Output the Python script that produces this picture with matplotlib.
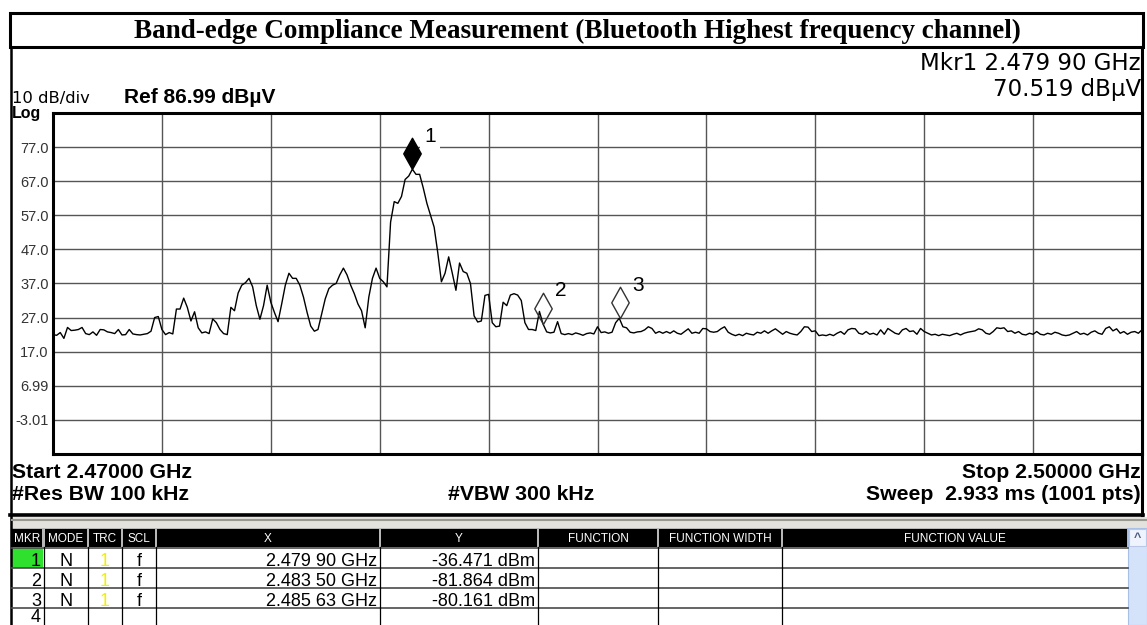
import matplotlib.pyplot as plt
import numpy as np
from matplotlib.patches import Rectangle

plt.rcParams['font.family'] = ['Liberation Sans', 'DejaVu Sans']

# sweep settings
f_start = 2.470   # GHz
f_stop = 2.500
ref_level = 86.99  # dBuV
db_div = 10

# trace, one value every 0.1 MHz (dBuV)
trace = [
    22.0, 21.8, 22.6, 20.9, 24.1, 23.2, 23.3, 23.5, 24.1, 22.3,
    22.0, 22.8, 21.8, 23.5, 23.4, 22.8, 22.6, 22.3, 23.5, 21.9,
    22.0, 23.5, 22.2, 22.0, 21.9, 22.1, 22.3, 23.0, 27.0, 27.3,
    23.5, 22.0, 22.6, 22.2, 29.5, 29.5, 32.7, 30.0, 26.0, 28.7,
    24.0, 22.5, 22.8, 22.3, 26.6, 25.5, 23.5, 22.3, 22.0, 30.0,
    29.0, 34.2, 36.5, 37.2, 38.5, 36.0, 30.5, 26.5, 30.5, 36.5,
    31.5, 28.5, 25.8, 31.0, 36.5, 40.0, 38.5, 38.5, 36.5, 33.0,
    28.5, 24.5, 23.0, 23.5, 28.0, 32.5, 35.5, 36.5, 37.0, 39.5,
    41.5, 39.5, 36.5, 34.0, 31.0, 29.0, 24.0, 33.0, 38.5, 41.5,
    38.5, 37.5, 36.0, 55.0, 61.0, 60.5, 62.5, 67.5, 68.5, 70.5,
    69.0, 69.0, 65.0, 60.5, 57.0, 53.5, 46.0, 37.5, 40.0, 44.8,
    40.0, 35.0, 43.0, 40.5, 40.0, 37.0, 27.5, 25.7, 26.0, 33.5,
    33.8, 25.5, 24.3, 24.5, 31.5, 30.5, 33.6, 34.0, 33.6, 32.0,
    25.5, 23.5, 23.5, 23.2, 28.8, 25.1, 22.8, 22.5, 22.7, 25.8,
    22.3, 22.0, 22.3, 22.0, 22.5, 22.2, 21.8, 22.3, 22.5, 22.2,
    24.3, 22.6, 22.8, 22.4, 22.7, 25.5, 26.8, 24.3, 24.0, 22.7,
    22.5, 22.8, 22.9, 23.4, 24.3, 23.8, 22.4, 22.9, 22.4, 22.9,
    22.4, 23.1, 22.4, 22.1, 22.9, 23.7, 22.4, 22.7, 22.4, 23.8,
    23.7, 22.9, 22.7, 22.9, 23.7, 24.3, 22.7, 22.1, 21.7, 22.1,
    21.7, 22.4, 22.1, 21.9, 22.7, 22.4, 23.1, 22.4, 23.1, 23.7,
    22.9, 22.1, 22.9, 22.4, 22.1, 21.9, 22.9, 24.3, 24.2, 22.9,
    23.1, 21.7, 21.9, 21.7, 22.1, 21.7, 22.4, 22.9, 22.1, 23.4,
    23.8, 23.7, 22.4, 22.1, 22.9, 22.1, 22.4, 21.9, 23.4, 22.1,
    23.8, 23.1, 22.4, 22.1, 23.4, 23.8, 22.9, 23.1, 22.1, 23.8,
    22.9, 22.4, 21.9, 22.1, 21.7, 22.1, 21.9, 21.7, 22.1, 22.4,
    21.9, 22.4, 22.7, 22.9, 23.1, 23.7, 23.4, 22.4, 22.1, 22.9,
    24.0, 23.8, 24.0, 22.9, 23.1, 22.4, 22.9, 22.1, 21.9, 22.4,
    22.1, 22.9, 22.1, 21.9, 22.4, 22.1, 22.7, 22.4, 21.9, 21.7,
    21.9, 22.4, 22.9, 22.1, 22.4, 21.9, 22.7, 23.1, 22.4, 22.1,
    23.8, 24.3, 23.1, 23.7, 22.4, 22.9, 22.1, 22.7, 22.9, 22.4,
    23.4,
]

# markers
mkr_freq = [2.47990, 2.48350, 2.48563]
mkr_dbm = [-36.471, -81.864, -80.161]
mkr_filled = [True, False, False]

ytick_vals = [77.0, 67.0, 57.0, 47.0, 37.0, 27.0, 17.0, 6.99, -3.01]
ytick_text = ["77.0", "67.0", "57.0", "47.0", "37.0", "27.0", "17.0", "6.99", "-3.01"]

# marker table
tbl_head = ["MKR", "MODE", "TRC", "SCL", "X", "Y", "FUNCTION", "FUNCTION WIDTH", "FUNCTION VALUE"]
tbl_mkr = ["1", "2", "3", "4"]
tbl_mode = ["N", "N", "N", ""]
tbl_trc = ["1", "1", "1", ""]
tbl_scl = ["f", "f", "f", ""]
tbl_x = ["2.479 90 GHz", "2.483 50 GHz", "2.485 63 GHz", ""]
tbl_y = ["-36.471 dBm", "-81.864 dBm", "-80.161 dBm", ""]

W, H = 1147, 625
fig = plt.figure(figsize=(W / 100, H / 100), dpi=100)
bg = fig.add_axes([0, 0, 1, 1], zorder=0)
bg.set_xlim(0, W)
bg.set_ylim(H, 0)
bg.axis('off')

# frames
bg.add_patch(Rectangle((10, 13), 1133, 34, fill=False, ec='black', lw=2.2))
bg.plot([11, 11], [47, 625], color='black', lw=1.8)
bg.plot([1142, 1142], [47, 515], color='black', lw=2.2)
bg.plot([10, 1143], [515, 515], color='black', lw=2.6)
bg.add_patch(Rectangle((12, 517), 1135, 11, fc='#e4e2dc', ec='none'))
bg.plot([12, 1147], [520, 520], color='#9a9890', lw=1.5)

bg.text(577, 37.5, "Band-edge Compliance Measurement (Bluetooth Highest frequency channel)",
        ha='center', va='baseline', fontsize=19.5, fontweight='bold', family='Liberation Serif')

bg.text(1141, 70, "Mkr1 2.479 90 GHz", ha='right', va='baseline', fontsize=16.5, family='DejaVu Sans')
bg.text(1141, 96, "70.519 dBµV", ha='right', va='baseline', fontsize=16.5, family='DejaVu Sans')
bg.text(12, 103, "10 dB/div", ha='left', va='baseline', fontsize=11.8, family='DejaVu Sans')
bg.text(124, 103, "Ref 86.99 dBµV", ha='left', va='baseline', fontsize=15, fontweight='bold')
bg.text(12, 118, "Log", ha='left', va='baseline', fontsize=11.5, fontweight='bold')

bg.text(12, 478, "Start 2.47000 GHz", ha='left', va='baseline', fontsize=15.3, fontweight='bold')
bg.text(1141, 478, "Stop 2.50000 GHz", ha='right', va='baseline', fontsize=15.3, fontweight='bold')
bg.text(12, 500, "#Res BW 100 kHz", ha='left', va='baseline', fontsize=15.3, fontweight='bold')
bg.text(521, 500, "#VBW 300 kHz", ha='center', va='baseline', fontsize=15.3, fontweight='bold')
bg.text(1141, 500, "Sweep  2.933 ms (1001 pts)", ha='right', va='baseline', fontsize=15.3, fontweight='bold')

# spectrum plot
ax = fig.add_axes([53 / W, 1 - 454 / H, 1089 / W, 341 / H], zorder=1)
freq = np.linspace(f_start, f_stop, len(trace))
ax.plot(freq, trace, color='black', lw=1.0, zorder=3)
ax.set_xlim(f_start, f_stop)
ax.set_ylim(ref_level - 10 * db_div, ref_level)
ax.set_xticks(np.linspace(f_start, f_stop, 11))
ax.set_xticklabels([])
ax.set_yticks(ytick_vals)
ax.set_yticklabels(ytick_text)
ax.tick_params(length=0, pad=3, labelsize=10.5, labelcolor='#333333')
ax.grid(True, color='#555555', lw=1.0)
ax.set_axisbelow(True)
for s in ax.spines.values():
    s.set_linewidth(2.2)

diamond = [(0, 0), (0.28, 0.5), (0, 1), (-0.28, 0.5), (0, 0)]
for k, (f, dbm, filled) in enumerate(zip(mkr_freq, mkr_dbm, mkr_filled)):
    lvl = dbm + 106.99
    ax.plot([f], [lvl], marker=diamond, ms=45, mfc='black' if filled else 'none',
            mec='black' if filled else '#333333', mew=1.0, clip_on=False, zorder=5)
    box = dict(boxstyle='square,pad=0.2', fc='white', ec='none') if k == 0 else None
    ax.annotate(str(k + 1), (f, lvl), xytext=(12, 33), textcoords='offset pixels',
                fontsize=15, ha='left', va='center', bbox=box, zorder=6)

# marker table
edges = [11, 43.5, 88, 122, 156, 380, 538, 658, 782, 1128]
bg.add_patch(Rectangle((11, 528), 1117, 19, fc='#b8b8b8', ec='none'))
for i, name in enumerate(tbl_head):
    x0, x1 = edges[i], edges[i + 1]
    bg.add_patch(Rectangle((x0 + 1.2, 529), x1 - x0 - 2.4, 18, fc='black', ec='none'))
    bg.text((x0 + x1) / 2, 542.5, name, color='white', ha='center', va='baseline', fontsize=8.5)

bg.add_patch(Rectangle((12, 548), 31, 20, fc='#2fe02f', ec='none'))
for y in [547.5, 568, 588, 607.5]:
    bg.plot([11, 1128], [y, y], color='#4a4a4a', lw=1.2)
for x in edges[1:-1]:
    bg.plot([x, x], [547, 625], color='black', lw=0.9)

row_base = [566.5, 586.5, 606, 622.5]
for r in range(4):
    yb = row_base[r]
    bg.text(41, yb, tbl_mkr[r], ha='right', va='baseline', fontsize=13)
    bg.text(66, yb, tbl_mode[r], ha='center', va='baseline', fontsize=13)
    bg.text(105, yb, tbl_trc[r], ha='center', va='baseline', fontsize=13, color='#f0f000')
    bg.text(139, yb, tbl_scl[r], ha='center', va='baseline', fontsize=13)
    bg.text(377, yb, tbl_x[r], ha='right', va='baseline', fontsize=13)
    bg.text(535, yb, tbl_y[r], ha='right', va='baseline', fontsize=13)

# scroll bar
bg.add_patch(Rectangle((1128, 528), 19, 97, fc='#d4e2fa', ec='#a9c0e6', lw=0.8))
bg.add_patch(Rectangle((1129, 529), 17, 17, fc='#eef3fd', ec='#b8c8e6', lw=0.8))
bg.text(1137.5, 541, "^", ha='center', va='baseline', fontsize=9, color='#4a5a80', fontweight='bold')

fig.savefig('out.png', dpi=100)
